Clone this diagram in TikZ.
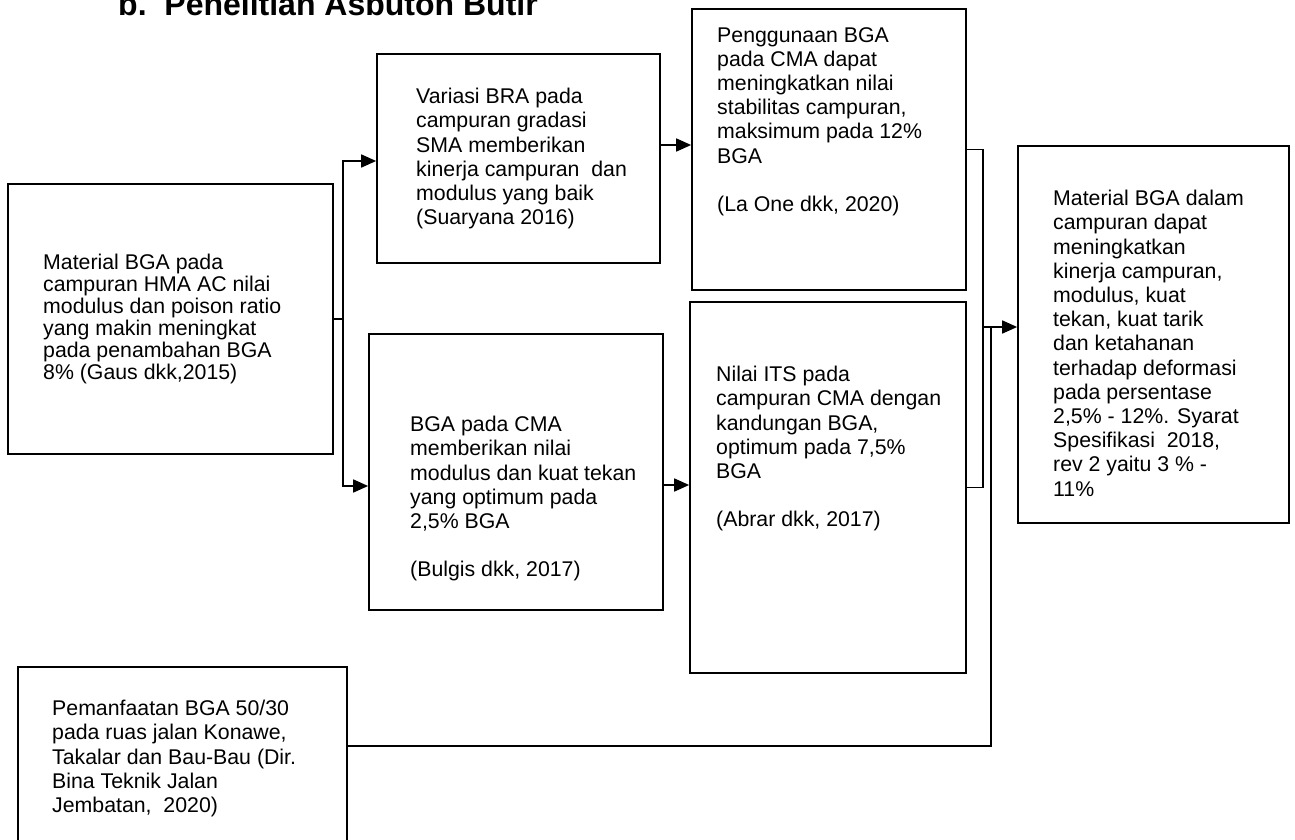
\documentclass[tikz,border=0pt]{standalone}
\usepackage{fontspec}
\setmainfont{Liberation Sans}
\usetikzlibrary{arrows.meta}
\begin{document}
\begin{tikzpicture}
  [x=1pt,y=-1pt,every node/.style={inner sep=0pt},
   box/.style={draw,line width=1.7pt},
   txt/.style={anchor=north west,align=left,font=\fontsize{21.3}{24.2}\selectfont},
   link/.style={line width=1.7pt},
   arr/.style={link,-{Triangle[length=15pt,width=13pt]}}]
  \useasboundingbox (0,0) rectangle (1295,840);
  \node[anchor=base west,font=\bfseries\fontsize{32}{36}\selectfont] (title) at (118,16) {b.\ \ Penelitian Asbuton Butir};

  \node[box,minimum width=325pt,minimum height=270pt] (b1) at (170.5,319) {};
  \node[box,minimum width=283pt,minimum height=209pt] (b2) at (518.5,158.5) {};
  \node[box,minimum width=294pt,minimum height=276pt] (b3) at (516,472) {};
  \node[box,minimum width=274pt,minimum height=281pt] (b4) at (829,149.5) {};
  \node[box,minimum width=276pt,minimum height=371pt] (b5) at (828,487.5) {};
  \node[box,minimum width=271pt,minimum height=377pt] (b6) at (1153.5,334.5) {};
  \node[box,minimum width=329pt,minimum height=213pt] (b7) at (182.5,773.5) {};

  \node[txt,font=\fontsize{21.3}{22}\selectfont] (t1) at (43,254) {Material BGA pada\\campuran HMA AC nilai\\modulus dan poison ratio\\yang makin meningkat\\pada penambahan BGA\\8\% (Gaus dkk,2015)};
  \node[txt] (t2) at (416,88) {Variasi BRA pada\\campuran gradasi\\SMA memberikan\\kinerja campuran\ \ dan\\modulus yang baik\\(Suaryana 2016)};
  \node[txt] (t3) at (410,416) {BGA pada CMA\\memberikan nilai\\modulus dan kuat tekan\\yang optimum pada\\2,5\% BGA\\[24.2pt](Bulgis dkk, 2017)};
  \node[txt] (t4) at (717,27) {Penggunaan BGA\\pada CMA dapat\\meningkatkan nilai\\stabilitas campuran,\\maksimum pada 12\%\\BGA\\[24.2pt](La One dkk, 2020)};
  \node[txt] (t5) at (716,366) {Nilai ITS pada\\campuran CMA dengan\\kandungan BGA,\\optimum pada 7,5\%\\BGA\\[24.2pt](Abrar dkk, 2017)};
  \node[txt] (t6) at (1053,190) {Material\ BGA dalam\\campuran dapat\\meningkatkan\\kinerja campuran,\\modulus, kuat\\tekan, kuat tarik\\dan ketahanan\\terhadap deformasi\\pada persentase\\2,5\% - 12\%. Syarat\\Spesifikasi\ \ 2018,\\rev 2 yaitu 3 \% -\\11\%};
  \node[txt] (t7) at (52,700) {Pemanfaatan BGA 50/30\\pada ruas jalan Konawe,\\Takalar dan Bau-Bau (Dir.\\Bina Teknik Jalan\\Jembatan,\ \ 2020)};

  \coordinate (jA) at (343,319);
  \coordinate (jAup) at (343,161);
  \coordinate (jAdn) at (343,486);
  \coordinate (jB) at (660,145);
  \coordinate (jC) at (663,485);
  \coordinate (jD) at (983,327);
  \coordinate (jG) at (991,327);

  \draw[link] (b1.east) -- (jA);
  \draw[arr] (jA) -- (jAup) -- (jAup -| b2.west);
  \draw[arr] (jA) -- (jAdn) -- (jAdn -| b3.west);
  \draw[arr] (jB) -- (jB -| b4.west);
  \draw[arr] (jC) -- (jC -| b5.west);
  \draw[link] (b4.east) -| (jD) |- (b5.east);
  \draw[arr] (jD) -- (jD -| b6.west);
  \draw[link] ([yshift=27.5pt]b7.east) -| (jG);

\end{tikzpicture}
\end{document}
